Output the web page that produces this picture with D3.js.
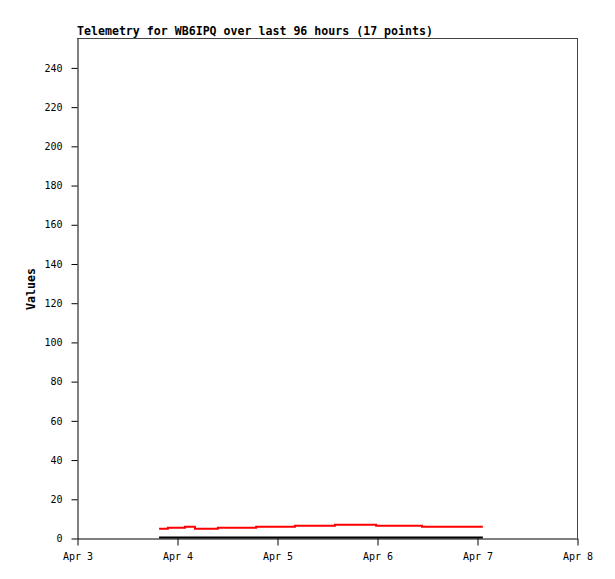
<!DOCTYPE html>
<html><head><meta charset="utf-8">
<script src="https://cdn.jsdelivr.net/npm/d3@7"></script>
<style>body{margin:0;background:#fff}</style>
</head><body>
<svg id="c" width="615" height="579"></svg>
<script>
// hours since Apr 3 00:00
const hours = [19.7, 21.8, 25.9, 28.3, 33.8, 38.5, 43.0, 47.5, 52.3, 57.0, 61.9, 66.8, 71.8, 77.3, 82.8, 90.0, 97.4];
const redValues = [4.75, 5.25, 5.75, 4.75, 5.25, 5.25, 5.75, 5.75, 6.25, 6.25, 6.75, 6.75, 6.25, 6.25, 5.75, 5.75, 5.75];
const blackValues = [0,0,0,0,0,0,0,0,0,0,0,0,0,0,0,0,0];
const yTicks = [0,20,40,60,80,100,120,140,160,180,200,220,240];
const xTickLabels = ["Apr 3","Apr 4","Apr 5","Apr 6","Apr 7","Apr 8"];
const title = "Telemetry for WB6IPQ over last 96 hours (17 points)";

const svg = d3.select("#c");
const L=77,R=577,T=38,B=538;
const x = d3.scaleLinear().domain([0,120]).range([L,R]);
const y = d3.scaleLinear().domain([0,255]).range([B,T]);
const mono = "'DejaVu Sans Mono','Liberation Mono',monospace";

// frame top/right
svg.append("line").attr("x1",L).attr("x2",R+0.5).attr("y1",T+0.5).attr("y2",T+0.5).attr("stroke","#444");
svg.append("line").attr("x1",R+0.5).attr("x2",R+0.5).attr("y1",T).attr("y2",B).attr("stroke","#444");

// y axis
const ya = svg.append("g").attr("transform",`translate(${L+0.5},0.5)`)
  .call(d3.axisLeft(y).tickValues(yTicks).tickSize(6).tickPadding(9).tickSizeOuter(0));
ya.select(".domain").attr("stroke","#000");
ya.selectAll("text").attr("font-family",mono).attr("font-size","10px").attr("fill","#000");

// x axis
const xa = svg.append("g").attr("transform",`translate(0.5,${B+0.5})`)
  .call(d3.axisBottom(x).tickValues(xTickLabels.map((d,i)=>i*24)).tickFormat((d,i)=>xTickLabels[i]).tickSize(7).tickPadding(7).tickSizeOuter(0));
xa.select(".domain").attr("stroke","#000");
xa.selectAll("text").attr("font-family",mono).attr("font-size","10px").attr("fill","#000");

// series
const line = (vals)=>d3.line().x((d,i)=>x(hours[i])).y(d=>y(d)).curve(d3.curveStepAfter)(vals);
svg.append("path").attr("d",line(blackValues)).attr("fill","none").attr("stroke","#000").attr("stroke-width",2).attr("transform","translate(0,-0.5)");
svg.append("path").attr("d",line(redValues)).attr("fill","none").attr("stroke","#ff0000").attr("stroke-width",2);

// title
svg.append("text").attr("x",L).attr("y",35).attr("font-family",mono).attr("font-weight","bold").attr("font-size","11.6px").text(title);
// y label
svg.append("text").attr("transform","translate(35,289) rotate(-90)").attr("text-anchor","middle")
  .attr("font-family",mono).attr("font-weight","bold").attr("font-size","11.6px").text("Values");
</script>
</body></html>
